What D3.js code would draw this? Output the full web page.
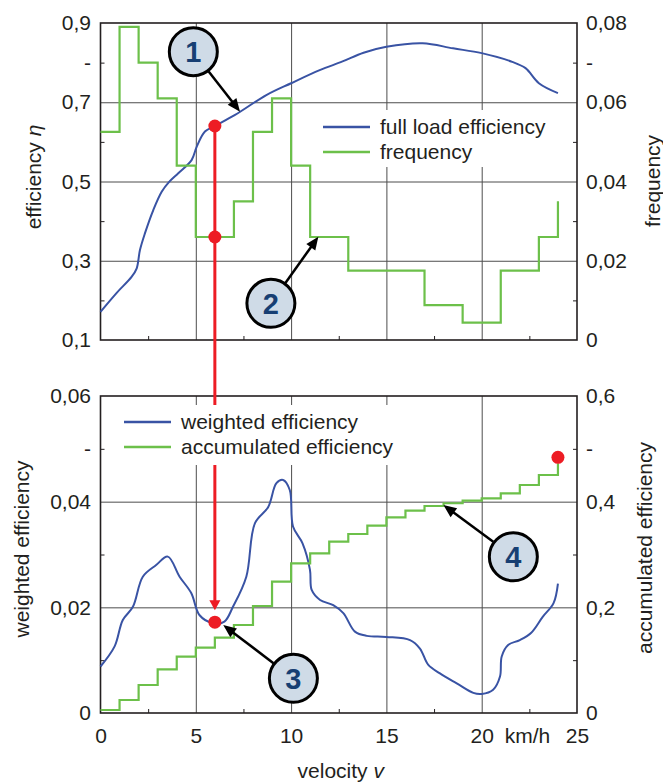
<!DOCTYPE html>
<html>
<head>
<meta charset="utf-8">
<script src="https://cdn.jsdelivr.net/npm/d3@7"></script>
<style>
  body { margin: 0; background: #fff; }
  svg { display: block; font-family: "Liberation Sans", Arial, sans-serif; }
  .tick text { fill: #231f20; font-size: 21px; }
  .title { fill: #231f20; font-size: 21px; }
</style>
</head>
<body>
<div id="chart"></div>
<script>
// --- data ---
// velocity bins in km/h (step lines), last point closes the last step
var binVelocity = [0, 1, 2, 3, 4, 5, 6, 7, 8, 9, 10, 11, 12, 13, 14, 15, 16, 17, 18, 19, 20, 21, 22, 23, 24];
var frequency = [0.0525, 0.079, 0.070, 0.061, 0.044, 0.026, 0.026, 0.035, 0.0525, 0.061, 0.044, 0.026, 0.026,
  0.0175, 0.0175, 0.0175, 0.0175, 0.0088, 0.0088, 0.0044, 0.0044, 0.0175, 0.0175, 0.026, 0.035];
var accumulated = [0.0057, 0.0246, 0.053, 0.0827, 0.1066, 0.1236, 0.1425, 0.1666, 0.2025, 0.2486, 0.2833, 0.3023,
  0.3243, 0.3388, 0.3545, 0.3704, 0.383, 0.3918, 0.397, 0.4018, 0.4063, 0.4158, 0.4315, 0.4505, 0.4726];

// full load efficiency curve
var effVelocity = [0, 0.85, 1.64, 1.9, 2.07, 2.33, 2.77, 3.21, 3.6, 4.08, 4.78, 5.05, 5.48, 6.0, 7.06, 8.7,
  10.0, 11.5, 12.7, 13.8, 15.0, 16.9, 18.5, 20.0, 21.6, 22.3, 23.0, 24.0];
var effEta = [0.171, 0.219, 0.26, 0.281, 0.327, 0.369, 0.428, 0.474, 0.499, 0.521, 0.554, 0.588, 0.626, 0.640,
  0.668, 0.718, 0.748, 0.781, 0.803, 0.825, 0.840, 0.849, 0.836, 0.824, 0.802, 0.786, 0.748, 0.723];

// weighted efficiency curve
var wVelocity = [0, 0.74, 1.17, 1.7, 2.22, 2.92, 3.53, 4.15, 4.76, 5.2, 5.9, 6.5, 6.95, 7.65, 8.1, 8.8, 9.23, 9.58,
  9.93, 10.1, 10.6, 10.99, 11.08, 11.52, 12.21, 12.74, 13.35, 13.97, 15.0, 16.24, 16.76, 17.2, 17.81, 18.69, 19.56,
  20.0, 20.6, 20.96, 21.05, 21.4, 22.0, 22.6, 23.2, 23.77, 24.0];
var wEff = [0.0088, 0.0126, 0.0176, 0.0201, 0.0258, 0.028, 0.0296, 0.0258, 0.0227, 0.0185, 0.017, 0.0173, 0.0201,
  0.0258, 0.0359, 0.039, 0.0435, 0.0441, 0.0422, 0.0353, 0.0321, 0.0271, 0.0233, 0.0214, 0.0204, 0.0189, 0.0154,
  0.0146, 0.0144, 0.0138, 0.0122, 0.0091, 0.0075, 0.0056, 0.0038, 0.0036, 0.0044, 0.0069, 0.0107, 0.0129, 0.0138,
  0.0152, 0.0182, 0.0208, 0.0245];

// highlighted operating point and total
var pointVelocity = 6;
var pointEta = 0.640;
var pointWeighted = 0.0172;
var totalAccumulated = 0.484;

// tick values and labels
var velTicks = [0, 5, 10, 15, 20, 25];
var velTickLabels = ["0", "5", "10", "15", "20", "25"];
var velMinor = [2.5, 7.5, 12.5, 17.5, 22.5];
var effTicks = [0.1, 0.3, 0.5, 0.7, 0.8, 0.9];
var effTickLabels = ["0,1", "0,3", "0,5", "0,7", "-", "0,9"];
var effMinor = [0.2, 0.4, 0.6, 0.8];
var freqTicks = [0, 0.02, 0.04, 0.06, 0.07, 0.08];
var freqTickLabels = ["0", "0,02", "0,04", "0,06", "-", "0,08"];
var freqMinor = [0.01, 0.03, 0.05, 0.07];
var wTicks = [0, 0.02, 0.04, 0.05, 0.06];
var wTickLabels = ["0", "0,02", "0,04", "-", "0,06"];
var wMinor = [0.01, 0.03, 0.05];
var accTicks = [0, 0.2, 0.4, 0.5, 0.6];
var accTickLabels = ["0", "0,2", "0,4", "-", "0,6"];
var accMinor = [0.1, 0.3, 0.5];

// --- layout ---
var svgWidth = 663;
var svgHeight = 783;
var plotLeft = 100.5;
var plotRight = 577;
var topPanel = { top: 23, bottom: 340 };
var botPanel = { top: 396, bottom: 713 };

var blue = "#3953a4";
var green = "#6cc04a";
var red = "#ed1c24";
var ink = "#231f20";

var svg = d3.select("#chart")
  .append("svg")
  .attr("width", svgWidth)
  .attr("height", svgHeight);

// scales
var x = d3.scaleLinear().domain([0, 25]).range([plotLeft, plotRight]);
var yEff = d3.scaleLinear().domain([0.1, 0.9]).range([topPanel.bottom, topPanel.top]);
var yFreq = d3.scaleLinear().domain([0, 0.08]).range([topPanel.bottom, topPanel.top]);
var yW = d3.scaleLinear().domain([0, 0.06]).range([botPanel.bottom, botPanel.top]);
var yAcc = d3.scaleLinear().domain([0, 0.6]).range([botPanel.bottom, botPanel.top]);

// gridlines, minor ticks, frame and tick labels for one panel
function drawPanel(panel, yLeft, yRight, leftTicks, leftLabels, leftMinor, rightTicks, rightLabels, rightMinor, hGrid, showX) {
  var h = panel.bottom - panel.top;
  var g = svg.append("g");

  // vertical gridlines
  g.append("g")
    .attr("transform", `translate(0, ${panel.bottom})`)
    .call(d3.axisBottom(x).tickValues([5, 10, 15, 20]).tickSize(-h).tickFormat(""))
    .call(s => s.select(".domain").remove())
    .selectAll("line").attr("stroke", "#4d4d4d").attr("stroke-width", 1);

  // horizontal gridlines
  g.append("g")
    .attr("transform", `translate(${plotLeft}, 0)`)
    .call(d3.axisLeft(yLeft).tickValues(hGrid).tickSize(-(plotRight - plotLeft)).tickFormat(""))
    .call(s => s.select(".domain").remove())
    .selectAll("line").attr("stroke", "#4d4d4d").attr("stroke-width", 1);

  // minor ticks (inside the frame)
  g.append("g")
    .attr("transform", `translate(0, ${panel.bottom})`)
    .call(d3.axisBottom(x).tickValues(velMinor).tickSize(-4).tickFormat(""))
    .call(s => s.select(".domain").remove())
    .selectAll("line").attr("stroke", ink);
  g.append("g")
    .attr("transform", `translate(${plotLeft}, 0)`)
    .call(d3.axisLeft(yLeft).tickValues(leftMinor).tickSize(-4).tickFormat(""))
    .call(s => s.select(".domain").remove())
    .selectAll("line").attr("stroke", ink);
  g.append("g")
    .attr("transform", `translate(${plotRight}, 0)`)
    .call(d3.axisRight(yRight).tickValues(rightMinor).tickSize(-4).tickFormat(""))
    .call(s => s.select(".domain").remove())
    .selectAll("line").attr("stroke", ink);

  // frame
  g.append("rect")
    .attr("x", plotLeft)
    .attr("y", panel.top)
    .attr("width", plotRight - plotLeft)
    .attr("height", h)
    .attr("fill", "none")
    .attr("stroke", ink)
    .attr("stroke-width", 1.6);

  // tick labels
  var leftAxis = g.append("g")
    .attr("transform", `translate(${plotLeft}, 0)`)
    .call(d3.axisLeft(yLeft).tickValues(leftTicks).tickSize(0).tickPadding(9.5)
      .tickFormat((d, i) => leftLabels[i]));
  leftAxis.select(".domain").remove();
  leftAxis.attr("font-family", null).attr("font-size", null);

  var rightAxis = g.append("g")
    .attr("transform", `translate(${plotRight}, 0)`)
    .call(d3.axisRight(yRight).tickValues(rightTicks).tickSize(0).tickPadding(9)
      .tickFormat((d, i) => rightLabels[i]));
  rightAxis.select(".domain").remove();
  rightAxis.attr("font-family", null).attr("font-size", null);

  if (showX) {
    var bottomAxis = g.append("g")
      .attr("transform", `translate(0, ${panel.bottom})`)
      .call(d3.axisBottom(x).tickValues(velTicks).tickSize(0).tickPadding(15)
        .tickFormat((d, i) => velTickLabels[i]));
    bottomAxis.select(".domain").remove();
    bottomAxis.attr("font-family", null).attr("font-size", null);
  }
}

drawPanel(topPanel, yEff, yFreq, effTicks, effTickLabels, effMinor, freqTicks, freqTickLabels, freqMinor, [0.3, 0.5, 0.7], false);
drawPanel(botPanel, yW, yAcc, wTicks, wTickLabels, wMinor, accTicks, accTickLabels, accMinor, [0.02, 0.04], true);

// axis titles
function rotatedTitle(cx, cy, label) {
  svg.append("text")
    .attr("class", "title")
    .attr("transform", `translate(${cx}, ${cy}) rotate(-90)`)
    .attr("text-anchor", "middle")
    .text(label);
}

var etaTitle = svg.append("text")
  .attr("class", "title")
  .attr("transform", `translate(41, 177) rotate(-90)`)
  .attr("text-anchor", "middle");
etaTitle.append("tspan").text("efficiency ");
etaTitle.append("tspan").attr("font-style", "italic").text("η");

rotatedTitle(660, 181, "frequency");
rotatedTitle(28.5, 549, "weighted efficiency");
rotatedTitle(652, 548, "accumulated efficiency");

svg.append("text")
  .attr("class", "title")
  .attr("x", x(22.4))
  .attr("y", botPanel.bottom + 30)
  .attr("text-anchor", "middle")
  .text("km/h");

var velTitle = svg.append("text")
  .attr("class", "title")
  .attr("x", (plotLeft + plotRight) / 2 + 2)
  .attr("y", 778)
  .attr("text-anchor", "middle");
velTitle.append("tspan").text("velocity ");
velTitle.append("tspan").attr("font-style", "italic").text("v");

// red guide line from operating point down to the weighted curve
var redTipY = yW(pointWeighted) - 12;
svg.append("line")
  .attr("x1", x(pointVelocity))
  .attr("x2", x(pointVelocity))
  .attr("y1", yEff(pointEta))
  .attr("y2", redTipY - 8)
  .attr("stroke", red)
  .attr("stroke-width", 3);
svg.append("path")
  .attr("d", `M${x(pointVelocity) - 5.5},${redTipY - 10}L${x(pointVelocity) + 5.5},${redTipY - 10}L${x(pointVelocity)},${redTipY}Z`)
  .attr("fill", red);

// legends (white boxes hide the grid behind them)
function legend(bx, by, bw, bh, lx, ly, items) {
  svg.append("rect")
    .attr("x", bx).attr("y", by)
    .attr("width", bw).attr("height", bh)
    .attr("fill", "#fff");
  items.forEach(function(item, i) {
    svg.append("line")
      .attr("x1", lx).attr("x2", lx + 47)
      .attr("y1", ly + i * 25).attr("y2", ly + i * 25)
      .attr("stroke", item.color)
      .attr("stroke-width", 2.5);
    svg.append("text")
      .attr("class", "title")
      .attr("x", lx + 57)
      .attr("y", ly + i * 25 + 7)
      .text(item.label);
  });
}

legend(315, 110, 240, 57, 323, 127, [
  { label: "full load efficiency", color: blue },
  { label: "frequency", color: green }
]);
legend(115, 405, 320, 60, 124, 422, [
  { label: "weighted efficiency", color: blue },
  { label: "accumulated efficiency", color: green }
]);

// curves
var effLine = d3.line()
  .x((d, i) => x(effVelocity[i]))
  .y(d => yEff(d))
  .curve(d3.curveCatmullRom.alpha(0.5));
svg.append("path")
  .datum(effEta)
  .attr("d", effLine)
  .attr("fill", "none")
  .attr("stroke", blue)
  .attr("stroke-width", 2);

var freqLine = d3.line()
  .x((d, i) => x(binVelocity[i]))
  .y(d => yFreq(d))
  .curve(d3.curveStepAfter);
svg.append("path")
  .datum(frequency)
  .attr("d", freqLine)
  .attr("fill", "none")
  .attr("stroke", green)
  .attr("stroke-width", 2.2);

var wLine = d3.line()
  .x((d, i) => x(wVelocity[i]))
  .y(d => yW(d))
  .curve(d3.curveCatmullRom.alpha(0.5));
svg.append("path")
  .datum(wEff)
  .attr("d", wLine)
  .attr("fill", "none")
  .attr("stroke", blue)
  .attr("stroke-width", 2);

var accLine = d3.line()
  .x((d, i) => x(binVelocity[i]))
  .y(d => yAcc(d))
  .curve(d3.curveStepAfter);
svg.append("path")
  .datum(accumulated)
  .attr("d", accLine)
  .attr("fill", "none")
  .attr("stroke", green)
  .attr("stroke-width", 2.2);

// red dots
var dots = [
  [x(pointVelocity), yEff(pointEta)],
  [x(pointVelocity), yFreq(frequency[pointVelocity])],
  [x(pointVelocity), yW(pointWeighted)],
  [x(24), yAcc(totalAccumulated)]
];
svg.selectAll(".dot")
  .data(dots)
  .enter()
  .append("circle")
  .attr("class", "dot")
  .attr("cx", d => d[0])
  .attr("cy", d => d[1])
  .attr("r", 6.5)
  .attr("fill", red);

// numbered callouts, placed in data units of their panel
var callouts = [
  { n: "1", cx: x(4.87), cy: yEff(0.8276), tx: x(7.32), ty: yEff(0.676) },
  { n: "2", cx: x(8.94), cy: yEff(0.1926), tx: x(11.43), ty: yEff(0.3607) },
  { n: "3", cx: x(10.12), cy: yW(0.00657), tx: x(6.44), ty: yW(0.01666) },
  { n: "4", cx: x(21.66), cy: yW(0.02958), tx: x(17.99), ty: yW(0.03937) }
];

callouts.forEach(function(c) {
  var dx = c.tx - c.cx, dy = c.ty - c.cy;
  var len = Math.sqrt(dx * dx + dy * dy);
  var ux = dx / len, uy = dy / len;
  var r = 25;
  var headL = 13, headW = 11;
  var bx = c.tx - ux * headL, by = c.ty - uy * headL;

  svg.append("line")
    .attr("x1", c.cx + ux * r).attr("y1", c.cy + uy * r)
    .attr("x2", bx + ux * 2).attr("y2", by + uy * 2)
    .attr("stroke", "#000")
    .attr("stroke-width", 2.5);
  svg.append("path")
    .attr("d", `M${c.tx},${c.ty}L${bx - uy * headW / 2},${by + ux * headW / 2}L${bx + uy * headW / 2},${by - ux * headW / 2}Z`)
    .attr("fill", "#000");

  svg.append("circle")
    .attr("cx", c.cx).attr("cy", c.cy)
    .attr("r", 24)
    .attr("fill", "#cfdbe7")
    .attr("stroke", "#000")
    .attr("stroke-width", 3);
  svg.append("text")
    .attr("x", c.cx).attr("y", c.cy + 10.5)
    .attr("text-anchor", "middle")
    .attr("font-size", 29)
    .attr("font-weight", "bold")
    .attr("fill", "#173f73")
    .text(c.n);
});
</script>
</body>
</html>
